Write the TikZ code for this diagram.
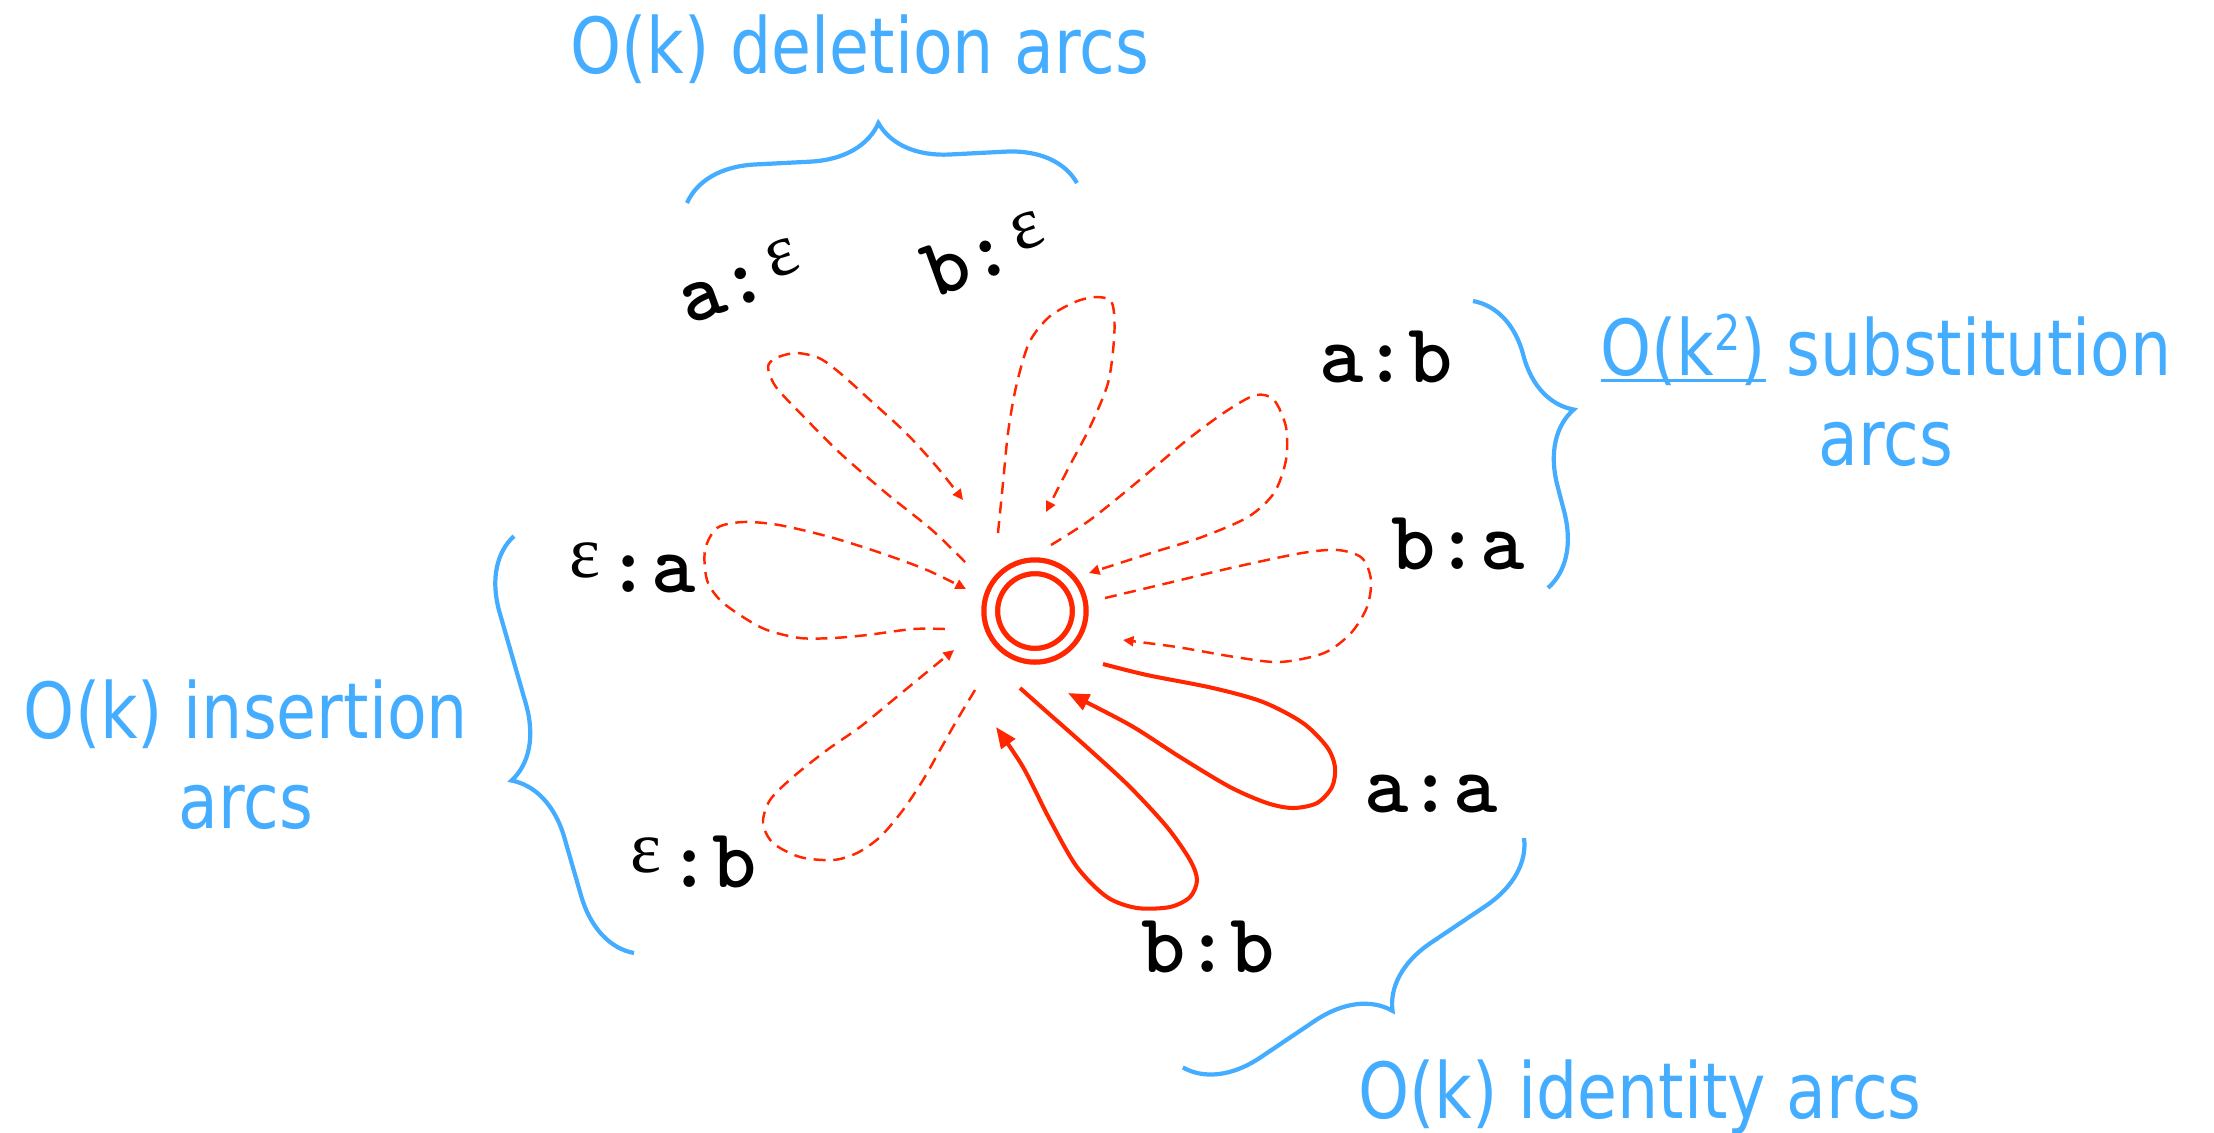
\documentclass[tikz,border=0pt]{standalone}
\usepackage{fontspec}
\usetikzlibrary{arrows.meta,decorations.pathreplacing}
\newfontfamily\bluefont[FakeStretch=0.84]{DejaVu Sans}
\newfontfamily\epsfont{Liberation Serif}
\definecolor{arcblue}{RGB}{69,173,255}
\definecolor{arcred}{RGB}{255,38,0}
\newcommand\eps{\makebox[0.525em]{\raisebox{4pt}{\epsfont\mdseries\fontsize{21}{21}\selectfont ε}}}
\newcommand\ulk[1]{\setbox0\hbox{#1}\rlap{\raisebox{-2pt}{\rule{\wd0}{0.85pt}}}\box0\relax}
\tikzset{
  finalstate/.style={draw=arcred,circle,double,line width=1.5pt,double distance=2.4pt,minimum size=8.85mm,inner sep=0pt},
  arclabel/.style={font=\ttfamily\bfseries\fontsize{24}{24}\selectfont,inner sep=0pt},
  note/.style={font=\bluefont\fontsize{22}{25.6}\selectfont,text=arcblue,align=center,inner sep=0pt},
  grp/.style={draw=arcblue,line width=1.2pt,decorate,decoration={brace,amplitude=7mm}},
  opt/.style={draw=arcred,line width=0.7pt,dash pattern=on 3.4pt off 2.2pt,-{Triangle[length=3pt,width=2.8pt]}},
  ident/.style={draw=arcred,line width=1.15pt,-{Triangle[length=6pt,width=4.8pt]}}
}
\begin{document}
\begin{tikzpicture}[x=0.1mm,y=-0.1mm]
\useasboundingbox (0,0) rectangle (2214,1132);
\node[finalstate] (q) at (1035,611) {};
\draw[opt] plot[smooth] coordinates {([shift={(-70,-49)}]q.center) (932,530) (886,493) (840,453) (804,417) (776,387) (768,367) (776,358) (796,353) (819,358) (840,373) (870,400) (906,433) (937,467) ([shift={(-72,-111)}]q.center)};
\draw[opt] plot[smooth] coordinates {([shift={(-37,-78)}]q.center) (1003,483) (1008,433) (1016,387) (1029,343) (1049,317) (1075,302) (1095,297) (1110,300) (1114,313) (1114,340) (1108,383) (1090,427) (1069,467) ([shift={(11,-99)}]q.center)};
\draw[opt] plot[smooth] coordinates {([shift={(16,-66)}]q.center) (1090,520) (1136,483) (1187,440) (1228,410) (1256,395) (1274,400) (1286,427) (1286,460) (1274,493) (1248,517) (1202,537) (1151,553) ([shift={(54,-38)}]q.center)};
\draw[opt] plot[smooth] coordinates {([shift={(70,-13)}]q.center) (1168,583) (1235,567) (1302,553) (1338,550) (1362,558) (1371,580) (1367,607) (1351,633) (1324,653) (1280,662) (1235,657) (1177,647) ([shift={(88,29)}]q.center)};
\draw[ident] plot[smooth] coordinates {([shift={(68,53)}]q.center) (1147,675) (1213,688) (1263,702) (1303,723) (1327,747) (1335,767) (1332,787) (1317,803) (1293,808) (1267,803) (1230,787) (1180,757) (1130,725) ([shift={(33,82)}]q.center)};
\draw[ident] plot[smooth] coordinates {([shift={(-15,77)}]q.center) (1047,712) (1090,750) (1130,787) (1167,827) (1190,860) (1197,880) (1190,897) (1170,907) (1137,908) (1107,897) (1077,867) (1050,820) (1023,767) ([shift={(-39,116)}]q.center)};
\draw[opt] plot[smooth] coordinates {([shift={(-60,79)}]q.center) (957,720) (940,750) (923,780) (903,810) (880,837) (857,853) (833,860) (800,857) (773,843) (763,823) (770,800) (793,777) (827,750) (860,727) (893,700) (927,672) ([shift={(-81,39)}]q.center)};
\draw[opt] plot[smooth] coordinates {([shift={(-90,18)}]q.center) (913,629) (867,635) (833,638) (800,638) (767,630) (743,617) (720,600) (707,580) (705,550) (717,528) (743,522) (779,525) (830,537) (881,553) (927,570) ([shift={(-69,-22)}]q.center)};
\node[arclabel,rotate=20] (ae) at (743,280) {a:\eps};
\node[arclabel,rotate=20] (be) at (988,252) {b:\eps};
\node[arclabel,anchor=base] (ab) at (1386,382) {a:b};
\node[arclabel,anchor=base] (ba) at (1458,569) {b:a};
\node[arclabel,anchor=base] (aa) at (1431,812) {a:a};
\node[arclabel,anchor=base] (bb) at (1208,972) {b:b};
\node[arclabel,anchor=base] (ea) at (629,592) {\eps:a};
\node[arclabel,anchor=base] (eb) at (690,887) {\eps:b};
\draw[grp] (687,203) -- (1077,183);
\draw[grp,decoration={aspect=0.44}] (1473,301) -- (1548,588);
\draw[grp,decoration={aspect=0.46}] (634,953) -- (514,536);
\draw[grp] (1524,838) -- (1182,1068);
\node[note,anchor=base] (del) at (860,73) {O(k) deletion arcs};
\node[note,anchor=base] (sub) at (1886,465) {\ulk{O(k\raisebox{7pt}{\fontsize{14}{14}\selectfont 2})} substitution\\arcs};
\node[note,anchor=base] (ins) at (246,828) {O(k) insertion\\arcs};
\node[note,anchor=base] (idn) at (1640,1118) {O(k) identity arcs};
\end{tikzpicture}
\end{document}
